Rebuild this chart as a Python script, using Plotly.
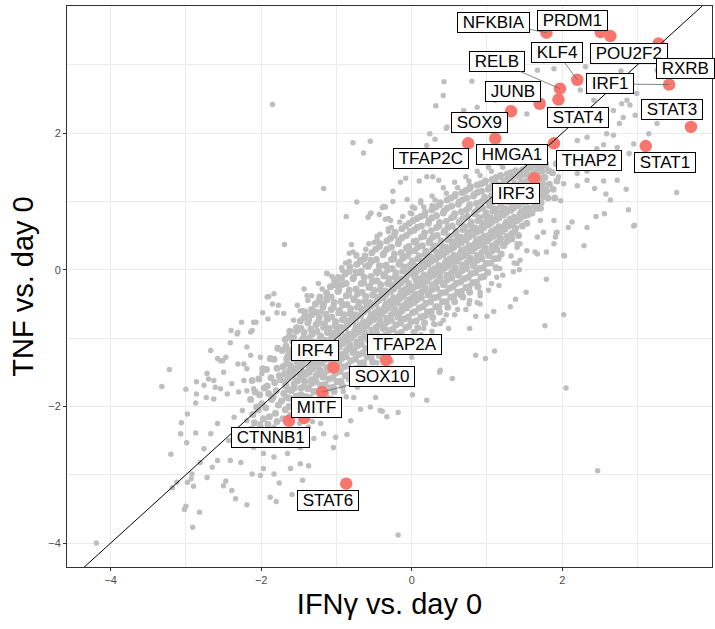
import plotly.graph_objects as go

# grey background genes: dense band along the diagonal (two interleaved sets)
grey_core = [
    (-2.12, -1.62), (-2.08, -1.79), (-2.14, -1.9), (-2.06, -2.01), (-2.11, -2.12), (-2.09, -2.24), (-2.13, -2.33),
    (-1.98, -1.45), (-2.03, -1.6), (-1.96, -1.73), (-2.02, -1.83), (-1.99, -1.96), (-2.04, -2.05), (-1.97, -2.18), (-2.01, -2.3),
    (-1.88, -1.3), (-1.93, -1.46), (-1.87, -1.58), (-1.92, -1.7), (-1.9, -1.81), (-1.86, -1.9), (-1.94, -2.02), (-1.89, -2.15), (-1.91, -2.26),
    (-1.78, -1.15), (-1.83, -1.31), (-1.79, -1.44), (-1.76, -1.55), (-1.82, -1.65), (-1.8, -1.77), (-1.84, -1.86), (-1.77, -1.98), (-1.81, -2.1), (-1.79, -2.22),
    (-1.68, -1.02), (-1.72, -1.18), (-1.66, -1.3), (-1.71, -1.42), (-1.69, -1.52), (-1.74, -1.61), (-1.67, -1.7), (-1.7, -1.81), (-1.73, -1.92), (-1.68, -2.05), (-1.71, -2.18),
    (-1.62, -0.9), (-1.58, -1.05), (-1.63, -1.18), (-1.57, -1.3), (-1.61, -1.4), (-1.59, -1.5), (-1.64, -1.58), (-1.56, -1.67), (-1.6, -1.77), (-1.62, -1.88), (-1.58, -2.0), (-1.61, -2.13),
    (-1.48, -0.75), (-1.53, -0.9), (-1.47, -1.04), (-1.52, -1.16), (-1.5, -1.27), (-1.46, -1.37), (-1.54, -1.45), (-1.49, -1.53), (-1.51, -1.62), (-1.47, -1.73), (-1.53, -1.85), (-1.5, -1.98), (-1.48, -2.1),
    (-1.42, -0.62), (-1.38, -0.78), (-1.43, -0.92), (-1.37, -1.05), (-1.41, -1.16), (-1.39, -1.26), (-1.44, -1.35), (-1.36, -1.44), (-1.4, -1.53), (-1.42, -1.63), (-1.38, -1.74), (-1.41, -1.86), (-1.39, -2.0),
    (-1.28, -0.5), (-1.33, -0.66), (-1.27, -0.8), (-1.32, -0.94), (-1.3, -1.06), (-1.26, -1.17), (-1.34, -1.27), (-1.29, -1.36), (-1.31, -1.45), (-1.27, -1.55), (-1.33, -1.66), (-1.3, -1.78), (-1.28, -1.92), (-1.32, -2.02),
    (-1.22, -0.4), (-1.18, -0.55), (-1.23, -0.7), (-1.17, -0.84), (-1.21, -0.97), (-1.19, -1.08), (-1.24, -1.18), (-1.16, -1.28), (-1.2, -1.37), (-1.22, -1.47), (-1.18, -1.57), (-1.21, -1.69), (-1.19, -1.82), (-1.23, -1.95),
    (-1.08, -0.25), (-1.13, -0.42), (-1.07, -0.58), (-1.12, -0.72), (-1.1, -0.86), (-1.06, -0.98), (-1.14, -1.08), (-1.09, -1.17), (-1.11, -1.27), (-1.07, -1.37), (-1.13, -1.48), (-1.1, -1.6), (-1.08, -1.73), (-1.12, -1.88),
    (-1.02, -0.15), (-0.98, -0.32), (-1.03, -0.48), (-0.97, -0.63), (-1.01, -0.76), (-0.99, -0.88), (-1.04, -0.98), (-0.96, -1.07), (-1.0, -1.17), (-1.02, -1.28), (-0.98, -1.39), (-1.01, -1.51), (-0.99, -1.64), (-1.03, -1.78),
    (-0.88, -0.06), (-0.93, -0.22), (-0.87, -0.38), (-0.92, -0.52), (-0.9, -0.66), (-0.86, -0.78), (-0.94, -0.89), (-0.89, -0.98), (-0.91, -1.08), (-0.87, -1.18), (-0.93, -1.3), (-0.9, -1.42), (-0.88, -1.55), (-0.92, -1.7),
    (-0.82, 0.04), (-0.78, -0.13), (-0.83, -0.3), (-0.77, -0.44), (-0.81, -0.57), (-0.79, -0.69), (-0.84, -0.8), (-0.76, -0.9), (-0.8, -1.0), (-0.82, -1.1), (-0.78, -1.21), (-0.81, -1.33), (-0.79, -1.46), (-0.83, -1.6),
    (-0.68, 0.12), (-0.73, -0.04), (-0.67, -0.2), (-0.72, -0.35), (-0.7, -0.48), (-0.66, -0.6), (-0.74, -0.71), (-0.69, -0.81), (-0.71, -0.91), (-0.67, -1.01), (-0.73, -1.12), (-0.7, -1.24), (-0.68, -1.37), (-0.72, -1.52),
    (-0.62, 0.2), (-0.58, 0.05), (-0.63, -0.11), (-0.57, -0.26), (-0.61, -0.39), (-0.59, -0.51), (-0.64, -0.62), (-0.56, -0.72), (-0.6, -0.82), (-0.62, -0.92), (-0.58, -1.03), (-0.61, -1.15), (-0.59, -1.28), (-0.63, -1.43),
    (-0.48, 0.3), (-0.53, 0.13), (-0.47, -0.03), (-0.52, -0.17), (-0.5, -0.3), (-0.46, -0.42), (-0.54, -0.53), (-0.49, -0.63), (-0.51, -0.73), (-0.47, -0.84), (-0.53, -0.95), (-0.5, -1.07), (-0.48, -1.2), (-0.52, -1.35),
    (-0.42, 0.38), (-0.38, 0.22), (-0.43, 0.06), (-0.37, -0.09), (-0.41, -0.22), (-0.39, -0.34), (-0.44, -0.45), (-0.36, -0.55), (-0.4, -0.65), (-0.42, -0.75), (-0.38, -0.86), (-0.41, -0.98), (-0.39, -1.11), (-0.43, -1.26),
    (-0.28, 0.46), (-0.33, 0.3), (-0.27, 0.15), (-0.32, 0.0), (-0.3, -0.13), (-0.26, -0.25), (-0.34, -0.36), (-0.29, -0.46), (-0.31, -0.56), (-0.27, -0.66), (-0.33, -0.77), (-0.3, -0.89), (-0.28, -1.02), (-0.32, -1.17),
    (-0.22, 0.55), (-0.18, 0.38), (-0.23, 0.23), (-0.17, 0.08), (-0.21, -0.05), (-0.19, -0.17), (-0.24, -0.28), (-0.16, -0.38), (-0.2, -0.48), (-0.22, -0.58), (-0.18, -0.69), (-0.21, -0.81), (-0.19, -0.94), (-0.23, -1.09),
    (-0.08, 0.64), (-0.13, 0.47), (-0.07, 0.32), (-0.12, 0.17), (-0.1, 0.04), (-0.06, -0.08), (-0.14, -0.19), (-0.09, -0.29), (-0.11, -0.39), (-0.07, -0.49), (-0.13, -0.6), (-0.1, -0.72), (-0.08, -0.85), (-0.12, -1.0),
    (0.02, 0.72), (-0.02, 0.56), (0.03, 0.41), (-0.03, 0.26), (0.01, 0.13), (-0.01, 0.01), (0.04, -0.1), (-0.04, -0.2), (0.0, -0.3), (0.02, -0.4), (-0.02, -0.51), (0.01, -0.63), (-0.01, -0.76), (0.03, -0.92),
    (0.12, 0.78), (0.07, 0.62), (0.13, 0.48), (0.08, 0.33), (0.1, 0.2), (0.14, 0.08), (0.06, -0.03), (0.11, -0.13), (0.09, -0.23), (0.13, -0.33), (0.07, -0.44), (0.1, -0.56), (0.12, -0.69), (0.08, -0.85),
    (0.18, 0.84), (0.22, 0.68), (0.17, 0.54), (0.23, 0.4), (0.19, 0.27), (0.21, 0.15), (0.16, 0.04), (0.24, -0.06), (0.2, -0.16), (0.18, -0.26), (0.22, -0.37), (0.19, -0.49), (0.21, -0.62), (0.17, -0.78),
    (0.32, 0.92), (0.27, 0.76), (0.33, 0.62), (0.28, 0.48), (0.3, 0.35), (0.34, 0.23), (0.26, 0.12), (0.31, 0.02), (0.29, -0.08), (0.33, -0.18), (0.27, -0.29), (0.3, -0.41), (0.32, -0.54), (0.28, -0.7),
    (0.38, 0.98), (0.42, 0.83), (0.37, 0.69), (0.43, 0.55), (0.39, 0.42), (0.41, 0.3), (0.36, 0.19), (0.44, 0.09), (0.4, -0.01), (0.38, -0.11), (0.42, -0.22), (0.39, -0.34), (0.41, -0.47), (0.37, -0.62),
    (0.52, 1.05), (0.47, 0.9), (0.53, 0.76), (0.48, 0.62), (0.5, 0.49), (0.54, 0.37), (0.46, 0.26), (0.51, 0.16), (0.49, 0.06), (0.53, -0.04), (0.47, -0.15), (0.5, -0.27), (0.52, -0.4), (0.48, -0.55),
    (0.58, 1.1), (0.62, 0.96), (0.57, 0.82), (0.63, 0.69), (0.59, 0.56), (0.61, 0.44), (0.56, 0.33), (0.64, 0.23), (0.6, 0.13), (0.58, 0.03), (0.62, -0.08), (0.59, -0.2), (0.61, -0.33), (0.57, -0.47),
    (0.72, 1.16), (0.67, 1.02), (0.73, 0.88), (0.68, 0.75), (0.7, 0.63), (0.74, 0.51), (0.66, 0.4), (0.71, 0.3), (0.69, 0.2), (0.73, 0.1), (0.67, -0.01), (0.7, -0.13), (0.72, -0.26), (0.68, -0.4),
    (0.78, 1.22), (0.82, 1.08), (0.77, 0.95), (0.83, 0.82), (0.79, 0.7), (0.81, 0.58), (0.76, 0.48), (0.84, 0.38), (0.8, 0.28), (0.78, 0.17), (0.82, 0.06), (0.79, -0.06), (0.81, -0.19), (0.77, -0.33),
    (0.92, 1.26), (0.87, 1.13), (0.93, 1.0), (0.88, 0.88), (0.9, 0.76), (0.94, 0.65), (0.86, 0.55), (0.91, 0.45), (0.89, 0.35), (0.93, 0.25), (0.87, 0.14), (0.9, 0.02), (0.92, -0.11), (0.88, -0.25),
    (0.98, 1.3), (1.02, 1.18), (0.97, 1.06), (1.03, 0.94), (0.99, 0.83), (1.01, 0.72), (0.96, 0.62), (1.04, 0.52), (1.0, 0.42), (0.98, 0.32), (1.02, 0.21), (0.99, 0.09), (1.01, -0.04),
    (1.12, 1.35), (1.07, 1.23), (1.13, 1.11), (1.08, 1.0), (1.1, 0.89), (1.14, 0.79), (1.06, 0.69), (1.11, 0.59), (1.09, 0.49), (1.13, 0.39), (1.07, 0.28), (1.1, 0.16), (1.12, 0.03),
    (1.18, 1.38), (1.22, 1.27), (1.17, 1.16), (1.23, 1.06), (1.19, 0.96), (1.21, 0.86), (1.16, 0.76), (1.24, 0.66), (1.2, 0.56), (1.18, 0.46), (1.22, 0.35), (1.19, 0.23),
    (1.32, 1.42), (1.27, 1.32), (1.33, 1.22), (1.28, 1.12), (1.3, 1.02), (1.34, 0.93), (1.26, 0.84), (1.31, 0.74), (1.29, 0.64), (1.33, 0.53), (1.27, 0.42),
    (1.38, 1.45), (1.42, 1.36), (1.37, 1.26), (1.43, 1.17), (1.39, 1.08), (1.41, 0.99), (1.36, 0.91), (1.44, 0.82), (1.4, 0.72), (1.38, 0.61), (1.42, 0.5),
    (1.52, 1.48), (1.47, 1.39), (1.53, 1.3), (1.48, 1.21), (1.5, 1.13), (1.54, 1.05), (1.46, 0.98), (1.51, 0.89), (1.49, 0.79), (1.53, 0.68),
    (1.58, 1.5), (1.62, 1.41), (1.57, 1.32), (1.63, 1.24), (1.59, 1.16), (1.61, 1.09), (1.56, 1.02), (1.64, 0.93), (1.6, 0.83),
    (1.72, 1.52), (1.67, 1.43), (1.73, 1.34), (1.68, 1.26), (1.7, 1.18), (1.74, 1.1), (1.66, 1.0), (1.71, 0.9),
    (1.78, 1.55), (1.82, 1.45), (1.77, 1.35), (1.83, 1.25), (1.79, 1.15), (1.81, 1.05),
    (1.92, 1.55), (1.87, 1.42), (1.93, 1.3), (1.88, 1.18), (1.9, 1.05),
]

grey_core_b = [
    (-1.63, -0.98), (-1.67, -1.12), (-1.64, -1.25), (-1.66, -1.37), (-1.62, -1.47), (-1.65, -1.56), (-1.68, -1.65), (-1.64, -1.75), (-1.66, -1.87), (-1.63, -2.0),
    (-1.53, -0.85), (-1.57, -0.99), (-1.54, -1.12), (-1.56, -1.24), (-1.52, -1.35), (-1.55, -1.45), (-1.58, -1.54), (-1.54, -1.63), (-1.56, -1.73), (-1.53, -1.85), (-1.57, -1.98),
    (-1.43, -0.7), (-1.47, -0.86), (-1.44, -1.0), (-1.46, -1.12), (-1.42, -1.23), (-1.45, -1.33), (-1.48, -1.42), (-1.44, -1.5), (-1.46, -1.6), (-1.43, -1.71), (-1.47, -1.83), (-1.45, -1.96),
    (-1.33, -0.58), (-1.37, -0.73), (-1.34, -0.87), (-1.36, -1.0), (-1.32, -1.12), (-1.35, -1.22), (-1.38, -1.31), (-1.34, -1.4), (-1.36, -1.5), (-1.33, -1.61), (-1.37, -1.73), (-1.35, -1.87),
    (-1.23, -0.46), (-1.27, -0.62), (-1.24, -0.77), (-1.26, -0.9), (-1.22, -1.02), (-1.25, -1.13), (-1.28, -1.22), (-1.24, -1.31), (-1.26, -1.41), (-1.23, -1.52), (-1.27, -1.64), (-1.25, -1.78), (-1.24, -1.9),
    (-1.13, -0.34), (-1.17, -0.5), (-1.14, -0.65), (-1.16, -0.79), (-1.12, -0.92), (-1.15, -1.03), (-1.18, -1.13), (-1.14, -1.22), (-1.16, -1.32), (-1.13, -1.43), (-1.17, -1.55), (-1.15, -1.68), (-1.14, -1.82),
    (-1.03, -0.22), (-1.07, -0.4), (-1.04, -0.55), (-1.06, -0.69), (-1.02, -0.82), (-1.05, -0.93), (-1.08, -1.03), (-1.04, -1.12), (-1.06, -1.22), (-1.03, -1.33), (-1.07, -1.45), (-1.05, -1.58), (-1.04, -1.72),
    (-0.93, -0.12), (-0.97, -0.3), (-0.94, -0.46), (-0.96, -0.6), (-0.92, -0.73), (-0.95, -0.84), (-0.98, -0.94), (-0.94, -1.03), (-0.96, -1.13), (-0.93, -1.24), (-0.97, -1.36), (-0.95, -1.49), (-0.94, -1.63),
    (-0.83, -0.02), (-0.87, -0.2), (-0.84, -0.37), (-0.86, -0.51), (-0.82, -0.64), (-0.85, -0.75), (-0.88, -0.85), (-0.84, -0.94), (-0.86, -1.04), (-0.83, -1.15), (-0.87, -1.27), (-0.85, -1.4), (-0.84, -1.54),
    (-0.73, 0.08), (-0.77, -0.11), (-0.74, -0.28), (-0.76, -0.42), (-0.72, -0.55), (-0.75, -0.66), (-0.78, -0.76), (-0.74, -0.85), (-0.76, -0.95), (-0.73, -1.06), (-0.77, -1.18), (-0.75, -1.31), (-0.74, -1.45),
    (-0.63, 0.16), (-0.67, -0.02), (-0.64, -0.19), (-0.66, -0.33), (-0.62, -0.46), (-0.65, -0.57), (-0.68, -0.67), (-0.64, -0.76), (-0.66, -0.86), (-0.63, -0.97), (-0.67, -1.09), (-0.65, -1.22), (-0.64, -1.36),
    (-0.53, 0.25), (-0.57, 0.07), (-0.54, -0.1), (-0.56, -0.24), (-0.52, -0.37), (-0.55, -0.48), (-0.58, -0.58), (-0.54, -0.67), (-0.56, -0.77), (-0.53, -0.88), (-0.57, -1.0), (-0.55, -1.13), (-0.54, -1.27),
    (-0.43, 0.34), (-0.47, 0.15), (-0.44, -0.02), (-0.46, -0.16), (-0.42, -0.29), (-0.45, -0.4), (-0.48, -0.5), (-0.44, -0.59), (-0.46, -0.69), (-0.43, -0.8), (-0.47, -0.92), (-0.45, -1.05), (-0.44, -1.19),
    (-0.33, 0.42), (-0.37, 0.24), (-0.34, 0.07), (-0.36, -0.07), (-0.32, -0.2), (-0.35, -0.31), (-0.38, -0.41), (-0.34, -0.5), (-0.36, -0.6), (-0.33, -0.71), (-0.37, -0.83), (-0.35, -0.96), (-0.34, -1.1),
    (-0.23, 0.5), (-0.27, 0.33), (-0.24, 0.16), (-0.26, 0.02), (-0.22, -0.11), (-0.25, -0.22), (-0.28, -0.32), (-0.24, -0.41), (-0.26, -0.51), (-0.23, -0.62), (-0.27, -0.74), (-0.25, -0.87), (-0.24, -1.01),
    (-0.13, 0.6), (-0.17, 0.42), (-0.14, 0.25), (-0.16, 0.11), (-0.12, -0.02), (-0.15, -0.13), (-0.18, -0.23), (-0.14, -0.32), (-0.16, -0.42), (-0.13, -0.53), (-0.17, -0.65), (-0.15, -0.78), (-0.14, -0.92),
    (-0.03, 0.68), (-0.07, 0.5), (-0.04, 0.34), (-0.06, 0.2), (-0.02, 0.07), (-0.05, -0.04), (-0.08, -0.14), (-0.04, -0.23), (-0.06, -0.33), (-0.03, -0.44), (-0.07, -0.56), (-0.05, -0.69), (-0.04, -0.83),
    (0.07, 0.75), (0.03, 0.58), (0.06, 0.42), (0.04, 0.28), (0.08, 0.16), (0.05, 0.05), (0.02, -0.06), (0.06, -0.15), (0.04, -0.25), (0.07, -0.36), (0.03, -0.48), (0.05, -0.61), (0.06, -0.75),
    (0.17, 0.8), (0.13, 0.64), (0.16, 0.49), (0.14, 0.35), (0.18, 0.23), (0.15, 0.12), (0.12, 0.01), (0.16, -0.08), (0.14, -0.18), (0.17, -0.29), (0.13, -0.41), (0.15, -0.54), (0.16, -0.68),
    (0.27, 0.88), (0.23, 0.72), (0.26, 0.57), (0.24, 0.43), (0.28, 0.3), (0.25, 0.19), (0.22, 0.08), (0.26, -0.01), (0.24, -0.11), (0.27, -0.22), (0.23, -0.34), (0.25, -0.47), (0.26, -0.61),
    (0.37, 0.95), (0.33, 0.79), (0.36, 0.64), (0.34, 0.5), (0.38, 0.37), (0.35, 0.26), (0.32, 0.15), (0.36, 0.06), (0.34, -0.04), (0.37, -0.15), (0.33, -0.27), (0.35, -0.4), (0.36, -0.54),
    (0.47, 1.02), (0.43, 0.86), (0.46, 0.71), (0.44, 0.57), (0.48, 0.44), (0.45, 0.33), (0.42, 0.22), (0.46, 0.13), (0.44, 0.03), (0.47, -0.08), (0.43, -0.2), (0.45, -0.33), (0.46, -0.47),
    (0.57, 1.08), (0.53, 0.93), (0.56, 0.78), (0.54, 0.64), (0.58, 0.52), (0.55, 0.41), (0.52, 0.3), (0.56, 0.21), (0.54, 0.11), (0.57, 0.0), (0.53, -0.12), (0.55, -0.25), (0.56, -0.39),
    (0.67, 1.13), (0.63, 0.99), (0.66, 0.85), (0.64, 0.71), (0.68, 0.59), (0.65, 0.48), (0.62, 0.37), (0.66, 0.28), (0.64, 0.18), (0.67, 0.07), (0.63, -0.05), (0.65, -0.18), (0.66, -0.32),
    (0.77, 1.19), (0.73, 1.05), (0.76, 0.91), (0.74, 0.78), (0.78, 0.66), (0.75, 0.55), (0.72, 0.44), (0.76, 0.35), (0.74, 0.25), (0.77, 0.14), (0.73, 0.02), (0.75, -0.11), (0.76, -0.25),
    (0.87, 1.24), (0.83, 1.1), (0.86, 0.97), (0.84, 0.84), (0.88, 0.72), (0.85, 0.61), (0.82, 0.51), (0.86, 0.42), (0.84, 0.32), (0.87, 0.21), (0.83, 0.09), (0.85, -0.04), (0.86, -0.18),
    (0.97, 1.28), (0.93, 1.15), (0.96, 1.02), (0.94, 0.9), (0.98, 0.79), (0.95, 0.68), (0.92, 0.58), (0.96, 0.49), (0.94, 0.39), (0.97, 0.28), (0.93, 0.16), (0.95, 0.03), (0.96, -0.1),
    (1.07, 1.32), (1.03, 1.2), (1.06, 1.08), (1.04, 0.97), (1.08, 0.86), (1.05, 0.76), (1.02, 0.66), (1.06, 0.56), (1.04, 0.46), (1.07, 0.35), (1.03, 0.23), (1.05, 0.1),
    (1.17, 1.36), (1.13, 1.25), (1.16, 1.14), (1.14, 1.03), (1.18, 0.93), (1.15, 0.83), (1.12, 0.73), (1.16, 0.63), (1.14, 0.53), (1.17, 0.42), (1.13, 0.3), (1.15, 0.17),
    (1.27, 1.4), (1.23, 1.3), (1.26, 1.19), (1.24, 1.09), (1.28, 0.99), (1.25, 0.89), (1.22, 0.8), (1.26, 0.7), (1.24, 0.6), (1.27, 0.49), (1.23, 0.37),
    (1.37, 1.43), (1.33, 1.34), (1.36, 1.24), (1.34, 1.14), (1.38, 1.05), (1.35, 0.96), (1.32, 0.87), (1.36, 0.77), (1.34, 0.67), (1.37, 0.56), (1.33, 0.45),
    (1.47, 1.46), (1.43, 1.37), (1.46, 1.28), (1.44, 1.19), (1.48, 1.1), (1.45, 1.02), (1.42, 0.94), (1.46, 0.85), (1.44, 0.75), (1.47, 0.64),
    (1.57, 1.49), (1.53, 1.4), (1.56, 1.31), (1.54, 1.22), (1.58, 1.14), (1.55, 1.07), (1.52, 0.99), (1.56, 0.9), (1.54, 0.8),
    (1.67, 1.51), (1.63, 1.42), (1.66, 1.33), (1.64, 1.25), (1.68, 1.17), (1.65, 1.09), (1.62, 1.0), (1.66, 0.9),
    (1.77, 1.53), (1.73, 1.44), (1.76, 1.35), (1.74, 1.26), (1.78, 1.17), (1.75, 1.08), (1.72, 0.98),
]

# looser fringe on both sides of the band
grey_fringe = [
    (-1.52, -0.52), (-1.45, -0.6), (-1.33, -0.38), (-1.38, -0.45), (-1.19, -0.28), (-1.24, -0.2),
    (-1.06, -0.1), (-1.03, -0.16), (-0.93, 0.03), (-0.88, 0.1), (-0.74, 0.2), (-0.78, 0.26),
    (-0.61, 0.3), (-0.57, 0.38), (-0.46, 0.44), (-0.42, 0.52), (-0.31, 0.56), (-0.27, 0.62),
    (-0.16, 0.7), (-0.12, 0.78), (0.0, 0.82), (0.04, 0.9), (0.16, 0.92), (0.12, 0.98),
    (0.31, 1.02), (0.27, 1.08), (0.46, 1.12), (0.42, 1.2), (0.61, 1.2), (0.57, 1.28),
    (0.76, 1.3), (0.72, 1.36), (0.91, 1.38), (0.87, 1.44), (1.06, 1.44), (1.02, 1.5),
    (1.21, 1.5), (1.17, 1.56),
    (-1.49, -2.25), (-1.53, -2.35), (-1.36, -2.12), (-1.32, -2.22), (-1.21, -2.02), (-1.17, -2.1),
    (-1.06, -1.88), (-1.02, -1.97), (-0.91, -1.78), (-0.87, -1.86), (-0.76, -1.62), (-0.72, -1.72),
    (-0.61, -1.52), (-0.57, -1.6), (-0.46, -1.36), (-0.42, -1.46), (-0.31, -1.26), (-0.27, -1.34),
    (-0.16, -1.12), (-0.12, -1.2), (0.0, -1.02), (0.04, -1.1), (0.16, -0.86), (0.12, -0.95),
    (0.31, -0.8), (0.27, -0.9), (0.46, -0.66), (0.42, -0.74), (0.61, -0.58), (0.57, -0.66),
    (0.76, -0.5), (0.72, -0.58), (0.91, -0.38), (0.87, -0.48), (1.06, -0.2), (1.02, -0.3),
    (1.21, -0.08), (1.17, 0.02), (1.36, 0.1), (1.32, 0.2),
]

# grey genes scattered above the band and in the upper right
grey_upper = [
    (-1.85, 2.42), (-0.78, 1.86), (-0.55, 1.88), (-0.64, 1.71), (-1.17, 1.19), (-0.73, 0.99), (-0.87, 0.78),
    (-0.54, 0.83), (-0.58, 0.77), (-0.43, 0.81), (-0.39, 0.91), (-0.35, 0.92), (-0.35, 0.74), (-1.69, 0.37),
    (-0.80, 0.37), (-0.46, 0.49), (-0.50, 0.40), (-0.83, 0.24), (-0.73, 0.22), (-0.83, 0.12), (-0.69, 0.15),
    (-0.55, 0.15), (-0.55, 0.09), (-0.62, 0.06), (-1.13, -0.05), (-0.92, -0.01), (-0.75, -0.02), (-0.68, -0.06),
    (-0.98, -0.10), (-0.99, -0.18), (-0.46, -0.06), (-0.38, 0.06), (-0.31, 0.60), (-0.31, 0.75),
    (0.43, 2.75), (0.42, 2.55), (0.32, 2.40), (0.46, 2.07), (0.24, 1.99), (0.31, 1.91), (0.20, 1.82),
    (-0.15, 1.28), (-0.08, 1.34), (-0.25, 1.15), (0.10, 1.30), (0.20, 1.36), (0.28, 1.36), (0.36, 1.31),
    (-0.25, 1.0), (-0.37, 0.93), (-0.06, 1.03), (0.01, 0.92), (-0.55, 0.82), (-0.28, 0.72), (-0.02, 0.83),
    (0.12, 1.01), (0.27, 0.94), (0.80, 2.76), (0.69, 2.33), (0.87, 2.38), (1.11, 2.48), (1.49, 2.58),
    (1.53, 2.28), (0.47, 2.09), (1.67, 2.92), (1.75, 3.06), (1.89, 2.94), (2.31, 2.97), (2.24, 2.63),
    (2.42, 2.48), (2.29, 2.33), (2.51, 2.28), (2.68, 2.33), (2.23, 2.14), (2.77, 2.63), (3.26, 2.92),
    (2.86, 2.48), (2.97, 2.26), (3.26, 2.14), (2.99, 2.58), (2.78, 2.91), (2.90, 2.41), (2.81, 2.23),
    (2.76, 2.14), (3.15, 1.99), (2.95, 1.84), (2.89, 1.70), (2.55, 1.83), (2.73, 1.79), (2.68, 1.97),
    (3.52, 1.13), (2.85, 1.18), (2.73, 1.31), (2.55, 1.30), (2.33, 1.31), (2.20, 1.23), (2.43, 1.19),
    (2.58, 1.11), (2.64, 1.02), (2.88, 0.88), (2.95, 0.64), (2.56, 0.82), (2.45, 0.78), (2.33, 0.62),
    (2.13, 0.70), (2.08, 0.62), (1.93, 0.55), (1.91, 0.48), (2.03, 0.20), (1.79, 0.26), (1.67, 0.23),
    (1.40, 0.38), (1.79, -0.14), (1.52, -0.33), (1.43, 0.0), (1.95, 1.36), (2.02, 1.26), (2.20, 1.41),
    (2.33, 1.44), (1.98, 1.01), (1.75, 1.06), (1.71, 1.16), (2.13, 1.70), (2.46, 1.77), (2.55, 1.60),
    (2.33, 1.94), (2.20, 1.89), (2.59, 1.99), (2.37, 2.19), (2.59, 2.33), (2.79, 2.43),
]

# grey genes scattered below the band and in the lower left
grey_lower = [
    (2.96, 0.65), (2.29, 0.35), (2.02, 0.21), (1.92, 0.54), (1.89, 0.38), (2.02, -0.66), (1.77, -0.82),
    (1.38, -0.43), (1.31, -0.54), (1.09, -0.61), (1.0, -0.68), (0.85, -0.68), (0.91, -0.50), (0.77, -0.86),
    (0.49, -0.86), (0.38, -0.79), (1.10, -1.19), (0.98, -1.30), (0.85, -1.25), (0.54, -1.59), (0.37, -1.50),
    (0.20, -1.91), (0.01, -1.83), (2.05, -1.73), (2.47, -2.94), (-0.18, -3.88), (-0.18, -2.09), (-0.33, -2.15),
    (-0.39, -2.07), (0.0, -1.28), (1.40, 0.33), (1.53, 0.28), (1.64, 0.26), (1.44, 0.38), (1.67, 0.48),
    (1.75, 0.55), (1.71, 0.72), (1.89, 0.72), (1.58, 0.82), (1.16, -0.23), (1.40, 0.09), (1.44, 0.14),
    (1.35, -0.03), (1.13, -0.11), (0.91, -0.33), (0.77, -0.45), (0.65, -0.38), (0.29, -0.79), (0.20, -0.67),
    (0.38, -1.47),
    (-4.19, -4.0), (-2.91, -3.77), (-3.02, -3.51), (-2.82, -3.55), (-3.0, -3.46), (-3.12, -3.11), (-3.18, -3.19),
    (-2.98, -3.11), (-2.93, -3.06), (-2.90, -3.17), (-2.92, -2.99), (-3.20, -2.70), (-2.99, -2.53), (-2.87, -2.39),
    (-3.06, -2.24), (-2.98, -2.11), (-2.87, -1.95), (-3.0, -1.75), (-2.86, -1.82), (-3.32, -1.71), (-3.22, -1.46),
    (-2.86, -1.64), (-2.73, -1.87), (-2.67, -1.18), (-2.72, -1.52), (-2.70, -1.60), (-2.61, -1.72), (-2.54, -1.33),
    (-2.47, -1.28), (-2.40, -0.89), (-2.26, -0.77), (-2.32, -0.94), (-2.10, -0.77), (-2.12, -0.89), (-1.98, -0.63),
    (-1.90, -0.39), (-1.83, -0.35), (-1.85, -0.50), (-1.77, -0.52), (-1.70, -0.64), (-1.48, -0.60), (-1.57, -0.74),
    (-1.39, -0.69), (-1.21, -0.62), (-0.99, -0.22), (-1.12, -0.45), (-2.23, -1.38), (-2.19, -1.45), (-2.01, -1.28),
    (-2.50, -1.50), (-2.63, -1.89), (-2.39, -1.67), (-2.23, -1.62), (-2.19, -1.77), (-1.99, -1.52), (-2.36, -2.16),
    (-2.25, -2.06), (-2.41, -2.79), (-2.27, -2.82), (-2.47, -3.09), (-2.50, -3.16), (-2.39, -3.23), (-2.34, -3.35),
    (-2.19, -3.44), (-2.12, -2.99), (-2.01, -3.01), (-1.88, -3.33), (-1.80, -3.39), (-1.76, -3.12), (-1.59, -3.29),
    (-1.45, -3.08), (-1.37, -2.87), (-1.61, -2.91), (-1.83, -2.99), (-1.97, -2.91), (-2.65, -2.89), (-2.72, -3.04),
    (-2.58, -2.79), (-2.43, -2.50), (-2.30, -2.45), (-2.10, -2.60), (-1.97, -2.69), (-1.83, -2.74), (-1.65, -2.69),
    (-1.48, -2.60), (-1.30, -2.47), (-1.17, -2.40), (-1.01, -2.45), (-0.86, -2.41), (-1.04, -2.60), (-0.81, -2.21),
    (-0.68, -2.04), (-0.55, -2.01), (-0.42, -2.06), (-0.48, -1.87), (-0.77, -1.87), (-0.99, -2.08), (-1.21, -2.25),
    (-1.37, -2.30), (-1.39, -2.47), (-1.48, -2.84), (-2.19, -2.21), (-2.01, -2.25), (-1.83, -2.30), (-2.58, -2.25),
    (-2.67, -2.40), (-2.76, -2.62), (-2.81, -2.82), (-3.07, -2.40),
    (-2.31, -0.92), (-2.41, -1.07), (-2.14, -0.91), (-2.07, -0.77), (-1.91, -0.72), (-1.92, -0.40), (-1.79, -0.63),
    (-1.43, -0.28), (-1.39, -0.38), (-1.24, -0.45), (-1.12, -0.06), (-1.01, -0.21), (-2.51, -1.33), (-2.58, -1.30),
    (-2.31, -1.38), (-2.19, -1.13), (-2.14, -1.25), (-2.63, -1.62), (-2.76, -1.69), (-2.54, -1.74), (-2.45, -1.82),
    (-2.30, -1.79), (-2.10, -1.74),
]

# highlighted transcription factors
genes = ["NFKBIA", "PRDM1", "POU2F2", "RXRB", "IRF1", "KLF4", "RELB", "STAT4", "JUNB", "SOX9", "STAT3",
         "TFAP2C", "HMGA1", "THAP2", "STAT1", "IRF3", "TFAP2A", "IRF4", "SOX10", "MITF", "CTNNB1", "STAT6"]
gene_x = [1.79, 2.51, 2.64, 3.28, 3.42, 2.20, 1.97, 1.95, 1.70, 1.32, 3.71,
          0.75, 1.11, 1.89, 3.11, 1.63, -0.34, -1.04, -1.19, -1.43, -1.63, -0.87]
gene_y = [3.47, 3.48, 3.42, 3.31, 2.71, 2.78, 2.65, 2.49, 2.43, 2.32, 2.09,
          1.85, 1.92, 1.85, 1.81, 1.34, -1.32, -1.43, -1.79, -2.17, -2.21, -3.13]

# repelled label placement (data units) and which labels show a leader segment
label_x = [1.09, 2.14, 2.89, 3.64, 2.64, 1.93, 1.13, 2.21, 1.35, 0.90, 3.46,
           0.26, 1.33, 2.35, 3.37, 1.39, -0.09, -1.28, -0.39, -1.26, -1.88, -1.11]
label_y = [3.62, 3.65, 3.17, 2.94, 2.72, 3.18, 3.05, 2.23, 2.61, 2.16, 2.34,
           1.63, 1.69, 1.60, 1.57, 1.11, -1.09, -1.18, -1.56, -2.01, -2.45, -3.37]
segment = ["NFKBIA", "RELB", "KLF4", "IRF1", "SOX10"]

core_pts = grey_core + grey_core_b
spread_pts = grey_fringe + grey_upper + grey_lower
font_family = "Liberation Sans, Arial, sans-serif"

fig = go.Figure()
fig.add_trace(go.Scatter(
    x=[p[0] for p in spread_pts], y=[p[1] for p in spread_pts],
    mode="markers", marker=dict(color="#BEBEBE", size=5.5, line_width=0),
    hoverinfo="skip",
))
fig.add_trace(go.Scatter(
    x=[p[0] for p in core_pts], y=[p[1] for p in core_pts],
    mode="markers", marker=dict(color="#BEBEBE", size=7, line_width=0),
    hoverinfo="skip",
))
fig.add_trace(go.Scatter(
    x=gene_x, y=gene_y, text=genes, mode="markers",
    marker=dict(color="#F8766D", size=12.5, line_width=0),
))
fig.add_trace(go.Scatter(
    x=[-6, 6], y=[-6, 6], mode="lines",
    line=dict(color="black", width=1), hoverinfo="skip",
))

label_font = dict(family=font_family, size=17, color="black")
for g, gx, gy, lx, ly in zip(genes, gene_x, gene_y, label_x, label_y):
    common = dict(
        text="\u00a0" + g + "\u00a0", font=label_font,
        bgcolor="white", bordercolor="black", borderwidth=1, borderpad=0,
    )
    if g in segment:
        fig.add_annotation(
            x=gx, y=gy, ax=lx, ay=ly, axref="x", ayref="y",
            showarrow=True, arrowhead=0, arrowwidth=0.8, arrowcolor="#666666",
            standoff=0, **common,
        )
    else:
        fig.add_annotation(x=lx, y=ly, showarrow=False, **common)

axis_common = dict(
    automargin=False,
    showline=True, mirror=True, linecolor="#333333", linewidth=1.1,
    ticks="outside", ticklen=3, tickwidth=1, tickcolor="#333333",
    tickfont=dict(family=font_family, size=11, color="#4d4d4d"),
    gridcolor="#ebebeb", gridwidth=1, zeroline=False,
    dtick=2, tick0=0,
    minor=dict(dtick=1, showgrid=True, gridcolor="#ebebeb", gridwidth=0.5),
)

fig.update_xaxes(
    range=[-4.58, 3.99],
    title=dict(text="IFNγ vs. day 0", standoff=8,
               font=dict(family=font_family, size=29, color="black")),
    **axis_common,
)
fig.update_yaxes(
    range=[-4.35, 3.86],
    title=dict(text="TNF vs. day 0", standoff=6,
               font=dict(family=font_family, size=29, color="black")),
    **axis_common,
)
fig.update_layout(
    width=715, height=629,
    margin=dict(l=67, r=3, t=6, b=62),
    plot_bgcolor="white", paper_bgcolor="white",
    showlegend=False,
)

# the page's default body margin would push the figure 8px off the window
fig.write_html(
    "out.html",
    config={"displayModeBar": False},
    post_script="document.body.style.margin='0';",
)
